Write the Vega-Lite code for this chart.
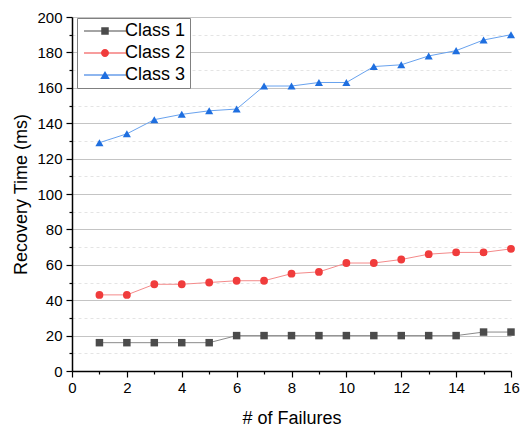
{
  "$schema": "https://vega.github.io/schema/vega-lite/v6.json",
  "width": 439,
  "height": 354,
  "autosize": {"type": "none"},
  "padding": {"left": 72, "top": 17, "right": 11, "bottom": 55},
  "background": "white",
  "config": {
    "view": {"stroke": null},
    "font": "Liberation Sans",
    "axis": {
      "labelFont": "Liberation Sans",
      "titleFont": "Liberation Sans",
      "labelColor": "black",
      "titleColor": "black",
      "domainColor": "black",
      "tickColor": "black",
      "titleFontWeight": "normal",
      "labelFontSize": 15,
      "titleFontSize": 18
    }
  },
  "data": {
    "values": [
      {"x": 1, "cls": "Class 1", "y": 16}, {"x": 2, "cls": "Class 1", "y": 16}, {"x": 3, "cls": "Class 1", "y": 16}, {"x": 4, "cls": "Class 1", "y": 16},
      {"x": 5, "cls": "Class 1", "y": 16}, {"x": 6, "cls": "Class 1", "y": 20}, {"x": 7, "cls": "Class 1", "y": 20}, {"x": 8, "cls": "Class 1", "y": 20},
      {"x": 9, "cls": "Class 1", "y": 20}, {"x": 10, "cls": "Class 1", "y": 20}, {"x": 11, "cls": "Class 1", "y": 20}, {"x": 12, "cls": "Class 1", "y": 20},
      {"x": 13, "cls": "Class 1", "y": 20}, {"x": 14, "cls": "Class 1", "y": 20}, {"x": 15, "cls": "Class 1", "y": 22}, {"x": 16, "cls": "Class 1", "y": 22},
      {"x": 1, "cls": "Class 2", "y": 43}, {"x": 2, "cls": "Class 2", "y": 43}, {"x": 3, "cls": "Class 2", "y": 49}, {"x": 4, "cls": "Class 2", "y": 49},
      {"x": 5, "cls": "Class 2", "y": 50}, {"x": 6, "cls": "Class 2", "y": 51}, {"x": 7, "cls": "Class 2", "y": 51}, {"x": 8, "cls": "Class 2", "y": 55},
      {"x": 9, "cls": "Class 2", "y": 56}, {"x": 10, "cls": "Class 2", "y": 61}, {"x": 11, "cls": "Class 2", "y": 61}, {"x": 12, "cls": "Class 2", "y": 63},
      {"x": 13, "cls": "Class 2", "y": 66}, {"x": 14, "cls": "Class 2", "y": 67}, {"x": 15, "cls": "Class 2", "y": 67}, {"x": 16, "cls": "Class 2", "y": 69},
      {"x": 1, "cls": "Class 3", "y": 129}, {"x": 2, "cls": "Class 3", "y": 134}, {"x": 3, "cls": "Class 3", "y": 142}, {"x": 4, "cls": "Class 3", "y": 145},
      {"x": 5, "cls": "Class 3", "y": 147}, {"x": 6, "cls": "Class 3", "y": 148}, {"x": 7, "cls": "Class 3", "y": 161}, {"x": 8, "cls": "Class 3", "y": 161},
      {"x": 9, "cls": "Class 3", "y": 163}, {"x": 10, "cls": "Class 3", "y": 163}, {"x": 11, "cls": "Class 3", "y": 172}, {"x": 12, "cls": "Class 3", "y": 173},
      {"x": 13, "cls": "Class 3", "y": 178}, {"x": 14, "cls": "Class 3", "y": 181}, {"x": 15, "cls": "Class 3", "y": 187}, {"x": 16, "cls": "Class 3", "y": 190}
    ]
  },
  "encoding": {
    "x": {
      "field": "x", "type": "quantitative",
      "scale": {"domain": [0, 16], "nice": false, "zero": false},
      "axis": {
        "title": "# of Failures",
        "values": [0,1,2,3,4,5,6,7,8,9,10,11,12,13,14,15,16],
        "labelExpr": "datum.value % 2 === 0 ? datum.label : ''",
        "grid": false,
        "domainWidth": 1.5,
        "tickWidth": 1.2,
        "tickSize": {"condition": {"test": "datum.value % 2 === 1", "value": 3}, "value": 6},
        "labelPadding": 3,
        "titlePadding": 14,
        "labelFlush": false,
        "labelOverlap": false
      }
    },
    "y": {
      "field": "y", "type": "quantitative",
      "scale": {"domain": [0, 200], "nice": false},
      "axis": {
        "title": "Recovery Time (ms)",
        "values": [0,10,20,30,40,50,60,70,80,90,100,110,120,130,140,150,160,170,180,190,200],
        "labelExpr": "datum.value % 20 === 0 ? datum.label : ''",
        "domainWidth": 1.5,
        "tickWidth": 1.2,
        "tickSize": {"condition": {"test": "datum.value % 20 === 10", "value": 3}, "value": 6},
        "gridColor": {"condition": {"test": "datum.value % 20 === 10", "value": "#e4e4e4"}, "value": "#c4c4c4"},
        "gridDash": {"condition": {"test": "datum.value % 20 === 10", "value": [3, 3]}, "value": []},
        "gridWidth": 1,
        "labelPadding": 4,
        "titlePadding": 6,
        "labelOverlap": false,
        "labelFlush": false
      }
    }
  },
  "layer": [
    {
      "mark": {"type": "line", "strokeWidth": 1},
      "encoding": {
        "color": {"field": "cls", "type": "nominal", "legend": null,
          "scale": {"domain": ["Class 1", "Class 2", "Class 3"], "range": ["#8a8a8a", "#f48a8a", "#68a2ee"]}},
        "detail": {"field": "cls"}
      }
    },
    {
      "mark": {"type": "point", "filled": true, "opacity": 1},
      "encoding": {
        "color": {"field": "cls", "type": "nominal", "legend": null,
          "scale": {"domain": ["Class 1", "Class 2", "Class 3"], "range": ["#4b4b4b", "#f03c3c", "#1f6fe0"]}},
        "shape": {"field": "cls", "type": "nominal", "legend": null,
          "scale": {"domain": ["Class 1", "Class 2", "Class 3"], "range": ["square", "circle", "triangle-up"]}},
        "size": {"field": "cls", "type": "nominal", "legend": null,
          "scale": {"domain": ["Class 1", "Class 2", "Class 3"], "range": [56, 66, 92]}}
      }
    },
    {
      "transform": [{"filter": "datum.x < 0"}],
      "mark": {"type": "point", "filled": true, "opacity": 1},
      "encoding": {
        "color": {"field": "cls", "type": "nominal",
          "scale": {"domain": ["Class 1", "Class 2", "Class 3"], "range": ["#4b4b4b", "#f03c3c", "#1f6fe0"]},
          "legend": {
            "title": null, "orient": "none", "legendX": 5, "legendY": 1,
            "labelFont": "Liberation Sans", "labelFontSize": 18, "labelColor": "black",
            "symbolSize": 100, "symbolStrokeWidth": 0,
            "symbolOffset": 15, "labelOffset": 11,
            "padding": 4, "rowPadding": 4,
            "strokeColor": "#808080", "fillColor": "white"
          }},
        "shape": {"field": "cls", "type": "nominal",
          "scale": {"domain": ["Class 1", "Class 2", "Class 3"],
            "range": [
              "M-4.2,-0.1H4.2V0.1H-4.2Z M-0.75,-0.75H0.75V0.75H-0.75Z",
              "M-4.2,-0.1H4.2V0.1H-4.2Z M-0.8,0A0.8,0.8,0,1,1,0.8,0A0.8,0.8,0,1,1,-0.8,0Z",
              "M-4.2,-0.1H4.2V0.1H-4.2Z M0,-0.82L0.95,0.82L-0.95,0.82Z"
            ]},
          "legend": {
            "title": null, "orient": "none", "legendX": 5, "legendY": 1,
            "labelFont": "Liberation Sans", "labelFontSize": 18, "labelColor": "black",
            "symbolSize": 100, "symbolStrokeWidth": 0,
            "symbolOffset": 15, "labelOffset": 11,
            "padding": 4, "rowPadding": 4,
            "strokeColor": "#808080", "fillColor": "white"
          }}
      }
    }
  ],
  "resolve": {"scale": {"color": "independent", "shape": "independent", "size": "independent"}}
}
